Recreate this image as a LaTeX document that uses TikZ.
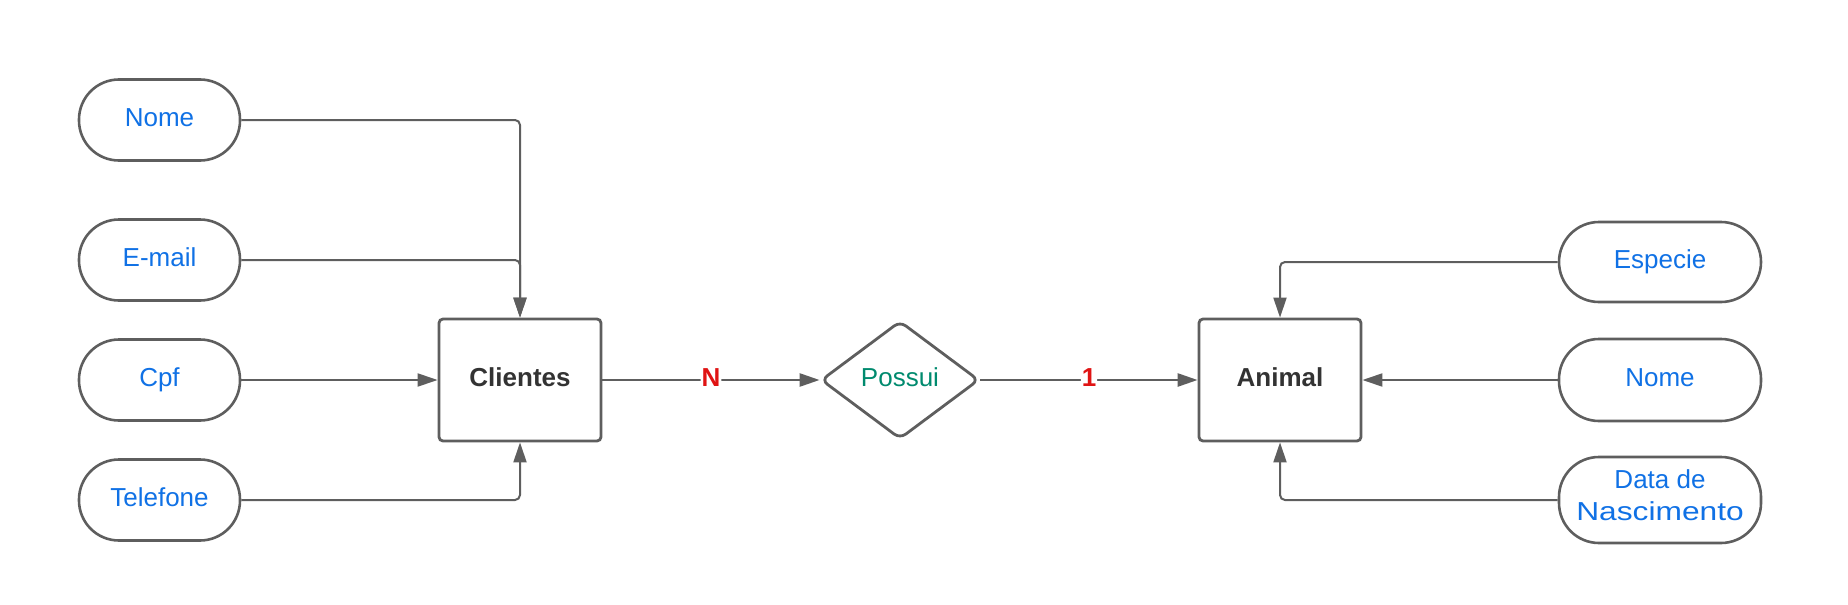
\documentclass[tikz,border=0pt]{standalone}
\usepackage{fontspec}
\setmainfont{Liberation Sans}
\usetikzlibrary{shapes.geometric,arrows.meta}
\definecolor{linegray}{HTML}{5E5E5E}
\definecolor{attrblue}{HTML}{1071E5}
\definecolor{relgreen}{HTML}{008A6E}
\definecolor{cardred}{HTML}{E01414}
\definecolor{darktext}{HTML}{333333}
\begin{document}
\begin{tikzpicture}[x=1pt,y=-1pt,
  basefont/.style={font=\fontsize{26}{32}\selectfont},
  oneline/.style={text height=19.5pt, text depth=6.5pt},
  attrL/.style={draw=linegray, line width=2.6pt, rounded corners=40pt, minimum width=161pt, minimum height=81pt, inner sep=0pt, text=attrblue, basefont, align=center},
  attrR/.style={attrL, minimum width=202pt},
  entity/.style={draw=linegray, line width=2.8pt, rounded corners=4pt, minimum width=162pt, minimum height=122pt, inner sep=0pt, text=darktext, font=\fontsize{26}{32}\selectfont\bfseries, oneline},
  rel/.style={diamond, draw=linegray, line width=2.8pt, rounded corners=7pt, minimum width=158pt, minimum height=118pt, inner sep=0pt, text=relgreen, basefont, oneline},
  conn/.style={draw=linegray, line width=2pt, rounded corners=5pt, -{Triangle[length=20pt,width=13pt]}},
  mainconn/.style={conn, line width=2.6pt},
  card/.style={fill=white, inner sep=1pt, text=cardred, font=\fontsize{26}{32}\selectfont\bfseries, oneline}
]
\useasboundingbox (0,0) rectangle (1848,605);
% left attributes
\node[attrL, oneline] (nome1) at (159.5,120) {Nome};
\node[attrL, oneline] (email) at (159.5,260) {E-mail};
\node[attrL, oneline] (cpf)   at (159.5,380) {Cpf};
\node[attrL, oneline] (tel)   at (159.5,500) {Telefone};
% entities and relationship
\node[entity] (cli) at (520,380) {Clientes};
\node[rel]    (pos) at (900,380) {Possui};
\node[entity] (ani) at (1280,380) {Animal};
% right attributes
\node[attrR, oneline, minimum height=80pt] (esp)   at (1660,262) {Especie};
\node[attrR, oneline, minimum height=82pt] (nome2) at (1660,380) {Nome};
\node[attrR, minimum height=86pt, text height=45pt, text depth=5pt] (data)  at (1660,500) {Data de\\\scalebox{1.22}[1]{Nascimento}};
% connectors
\draw[conn] (nome1.east) -| (cli.north);
\draw[conn] (email.east) -| (cli.north);
\draw[conn] (cpf.east) -- (cli.west);
\draw[conn] (tel.east) -| (cli.south);
\draw[mainconn] (cli.east) -- (pos.west) node[midway, card] {N};
\draw[mainconn] (pos.east) -- (ani.west) node[midway, card] {1};
\draw[conn] (esp.west) -| (ani.north);
\draw[conn] (nome2.west) -- (ani.east);
\draw[conn] (data.west) -| (ani.south);
\end{tikzpicture}
\end{document}
